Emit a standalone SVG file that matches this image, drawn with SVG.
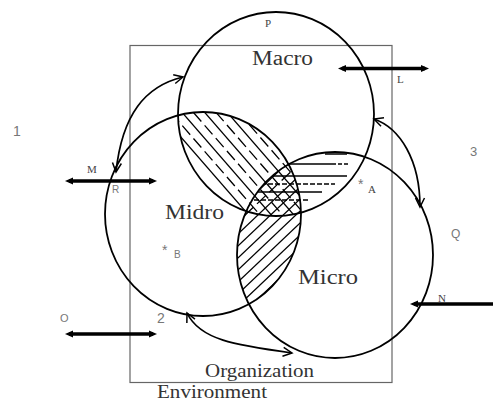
<svg xmlns="http://www.w3.org/2000/svg" width="493" height="403" viewBox="0 0 493 403">
<style>
.c{fill:none;stroke:#000;stroke-width:1.8}
.h{stroke:#000;stroke-width:1.3;fill:none}
.d{stroke-dasharray:12 5}
.big{font-family:"Liberation Serif",serif;fill:#333}
.sm{font-family:"Liberation Serif",serif;fill:#444;font-size:11px}
.ss{font-family:"Liberation Sans",sans-serif;fill:#777}
.ba{stroke:#000;stroke-width:3.5;fill:none}
.ca{stroke:#000;stroke-width:1.7;fill:none}
</style>
<defs>
<marker id="hb" viewBox="0 0 8 8" refX="4" refY="4" markerWidth="8" markerHeight="8" markerUnits="userSpaceOnUse" orient="auto-start-reverse"><path d="M0,0.5 L8,4 L0,7.5 z" fill="#000"/></marker>
<marker id="ho" viewBox="-1 -1 12 12" refX="9" refY="4.5" markerWidth="12" markerHeight="12" markerUnits="userSpaceOnUse" orient="auto-start-reverse"><path d="M0,0 L9,4.5 L0,9" fill="none" stroke="#000" stroke-width="1.5"/></marker>
<clipPath id="cMa"><ellipse cx="276" cy="114" rx="98" ry="102"/></clipPath>
<clipPath id="cMi"><ellipse cx="203" cy="214" rx="98" ry="102"/></clipPath>
<clipPath id="cMc"><ellipse cx="335" cy="255" rx="98" ry="103"/></clipPath>
</defs>
<rect id="env" x="130" y="45.5" width="262" height="337" fill="none" stroke="#666" stroke-width="1.2"/>
<g id="hatch-macro-midro" clip-path="url(#cMa)"><g clip-path="url(#cMi)">
<line class="h" x1="160" y1="9" x2="320" y2="193"/>
<line class="h d" x1="160" y1="22" x2="320" y2="206"/>
<line class="h" x1="160" y1="35" x2="320" y2="219"/>
<line class="h d" x1="160" y1="48" x2="320" y2="232"/>
<line class="h" x1="160" y1="61" x2="320" y2="245"/>
<line class="h d" x1="160" y1="74" x2="320" y2="258"/>
<line class="h" x1="160" y1="87" x2="320" y2="271"/>
<line class="h d" x1="160" y1="100" x2="320" y2="284"/>
<line class="h" x1="160" y1="113" x2="320" y2="297"/>
</g></g>
<g id="hatch-macro-micro" clip-path="url(#cMa)"><g clip-path="url(#cMc)">
<line class="h" x1="325" y1="154" x2="347" y2="154" stroke-width="2"/>
<line class="h" x1="240" y1="164" x2="332" y2="164"/>
<line class="h" x1="332" y1="164" x2="350" y2="164" style="stroke-dasharray:4 2"/>
<line class="h" x1="240" y1="176" x2="347" y2="176"/>
<line class="h" x1="240" y1="184" x2="335" y2="184" style="stroke-dasharray:5 2"/>
<line class="h" x1="240" y1="192" x2="322" y2="192"/>
<line class="h" x1="240" y1="200" x2="310" y2="200" style="stroke-dasharray:5 2"/>
</g></g>
<g id="hatch-midro-micro" clip-path="url(#cMi)"><g clip-path="url(#cMc)">
<line class="h d" x1="220" y1="215" x2="320" y2="120"/>
<line class="h" x1="220" y1="227" x2="320" y2="132"/>
<line class="h d" x1="220" y1="239" x2="320" y2="144"/>
<line class="h" x1="220" y1="251" x2="320" y2="156"/>
<line class="h" x1="220" y1="263" x2="320" y2="168"/>
<line class="h" x1="220" y1="275" x2="320" y2="180"/>
<line class="h" x1="220" y1="287" x2="320" y2="192"/>
<line class="h" x1="220" y1="299" x2="320" y2="204"/>
<line class="h" x1="220" y1="311" x2="320" y2="216"/>
<line class="h" x1="220" y1="323" x2="320" y2="228"/>
<line class="h" x1="220" y1="335" x2="320" y2="240"/>
</g></g>
<g id="macro"><ellipse class="c" cx="276" cy="114" rx="98" ry="102"/>
<text class="sm" x="265" y="27" font-size="10">P</text>
<text class="big" x="252" y="65" font-size="20" textLength="61" lengthAdjust="spacingAndGlyphs">Macro</text></g>
<g id="midro"><ellipse class="c" cx="203" cy="214" rx="98" ry="102"/>
<text class="big" x="165" y="219" font-size="20" textLength="59" lengthAdjust="spacingAndGlyphs">Midro</text>
<text class="ss" x="162" y="255" font-size="14" fill="#444">*</text>
<text class="ss" x="174" y="258" font-size="10" fill="#555">B</text></g>
<g id="micro"><ellipse class="c" cx="335" cy="255" rx="98" ry="103"/>
<text class="big" x="298" y="284" font-size="20" textLength="60" lengthAdjust="spacingAndGlyphs">Micro</text>
<text class="ss" x="358" y="189" font-size="14" fill="#444">*</text>
<text class="sm" x="368" y="193">A</text></g>
<g id="organization"><text class="big" x="205" y="377" font-size="18" textLength="109" lengthAdjust="spacingAndGlyphs">Organization</text></g>
<g id="environment"><text class="big" x="157" y="398" font-size="18" textLength="110" lengthAdjust="spacingAndGlyphs">Environment</text></g>
<g id="labels">
<text class="sm" x="397" y="83">L</text>
<text class="sm" x="87" y="173">M</text>
<text class="ss" x="112" y="193" font-size="10" fill="#555">R</text>
<text class="ss" x="451" y="238" font-size="12" fill="#555">Q</text>
<text class="sm" x="438" y="302" font-size="10">N</text>
<text class="ss" x="60" y="322" font-size="11">O</text>
<text class="ss" x="13" y="136" font-size="14">1</text>
<text class="ss" x="157" y="323" font-size="14">2</text>
<text class="ss" x="470" y="156" font-size="13">3</text>
</g>
<g id="connectors">
<line class="ba" x1="342" y1="68.5" x2="425" y2="68.5" marker-start="url(#hb)" marker-end="url(#hb)"/>
<line class="ba" x1="69" y1="181" x2="153" y2="181" marker-start="url(#hb)" marker-end="url(#hb)"/>
<line class="ba" x1="69" y1="334" x2="153" y2="334" stroke-width="3" marker-start="url(#hb)" marker-end="url(#hb)"/>
<line class="ba" x1="414" y1="304" x2="493" y2="304" stroke-width="4" marker-start="url(#hb)"/>
<path class="ca" d="M183,77 C145,86 122,115 116,172" marker-start="url(#ho)" marker-end="url(#ho)"/>
<path class="ca" d="M374,119 C400,128 420,160 420,207" marker-start="url(#ho)" marker-end="url(#ho)"/>
<path class="ca" d="M187,313 C200,340 235,345 292,353" marker-start="url(#ho)" marker-end="url(#ho)"/>
</g>
</svg>
